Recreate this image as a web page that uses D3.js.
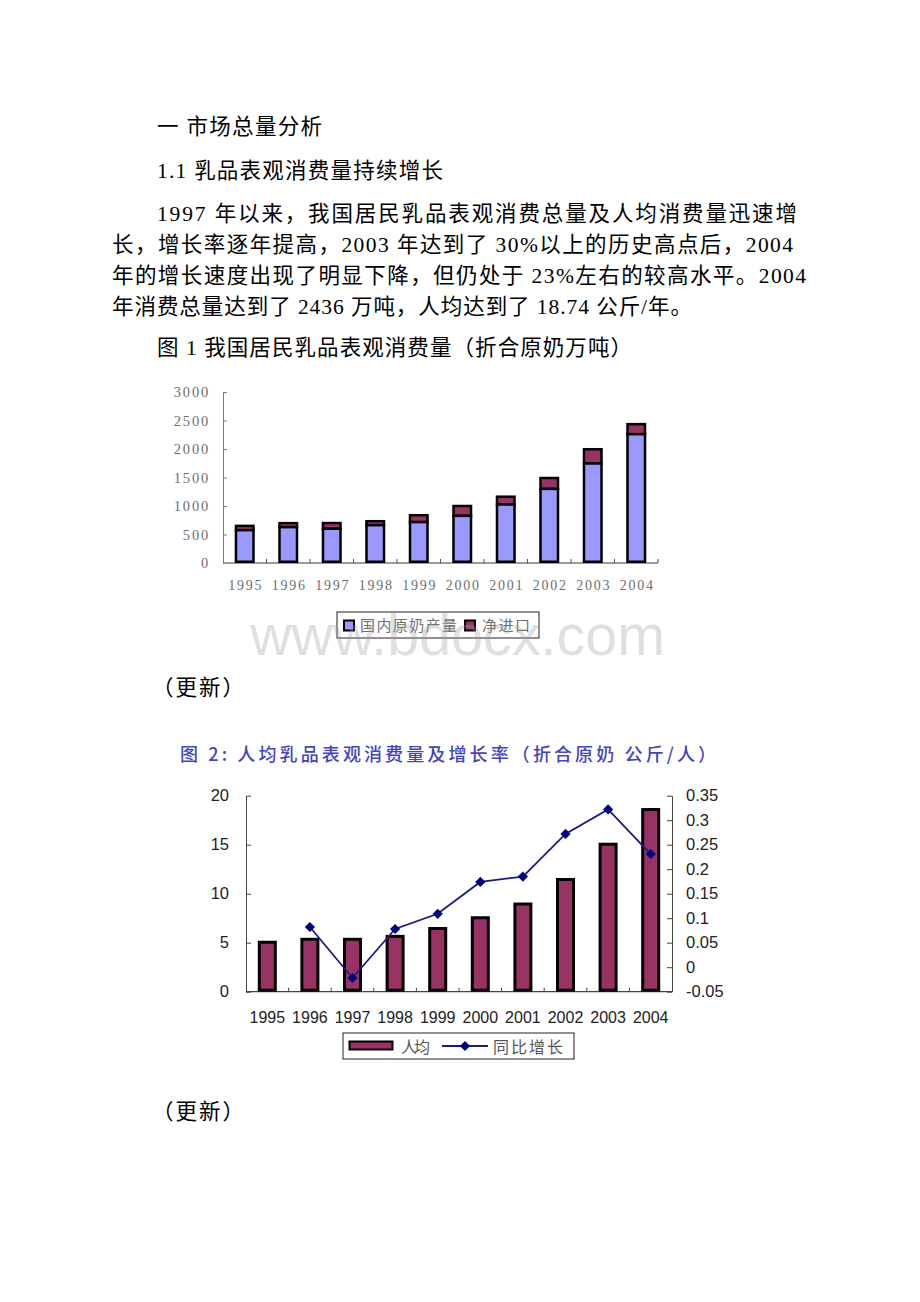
<!DOCTYPE html>
<html><head><meta charset="utf-8">
<script src="https://cdn.jsdelivr.net/npm/d3@7"></script>
<style>body{margin:0;background:#fff}svg{display:block}</style>
</head><body>
<svg id="page" width="920" height="1302"></svg>
<script>
// ---------- data ----------
const years = ['1995','1996','1997','1998','1999','2000','2001','2002','2003','2004'];
const domestic = [576, 629, 601, 663, 718, 827, 1026, 1300, 1746, 2260];
const netImport = [75, 70, 100, 70, 120, 173, 137, 191, 250, 176];
const perCapita = [5.2, 5.5, 5.5, 5.8, 6.6, 7.7, 9.1, 11.6, 15.2, 18.74];
const growth = [null, 0.082, -0.022, 0.078, 0.109, 0.174, 0.185, 0.272, 0.322, 0.231];
const yTicks1 = [0, 500, 1000, 1500, 2000, 2500, 3000];
const yTicksLeft2 = [0, 5, 10, 15, 20];
const yTicksRight2 = [-0.05, 0, 0.05, 0.1, 0.15, 0.2, 0.25, 0.3, 0.35];
const legend1 = ['国内原奶产量', '净进口'];
const legend2 = ['人均', '同比增长'];
const title2 = '图 2:  人均乳品表观消费量及增长率（折合原奶 公斤/人）';
const bodyLines = [
  '一 市场总量分析',
  '1.1 乳品表观消费量持续增长',
  '1997 年以来，我国居民乳品表观消费总量及人均消费量迅速增',
  '长，增长率逐年提高，2003 年达到了 30%以上的历史高点后，2004',
  '年的增长速度出现了明显下降，但仍处于 23%左右的较高水平。2004',
  '年消费总量达到了 2436 万吨，人均达到了 18.74 公斤/年。',
  '图 1 我国居民乳品表观消费量（折合原奶万吨）',
  '（更新）',
  '（更新）'
];

// ---------- layout ----------
const bodyLayout = [
  {x:157, y:127, w:165},
  {x:157, y:171, w:286},
  {x:157, y:214, w:640},
  {x:112, y:245, w:681},
  {x:112, y:276, w:694},
  {x:112, y:307, w:580},
  {x:157, y:348, w:475},
  {x:152, y:688, w:92},
  {x:152, y:1112, w:92}
];
const svg = d3.select('#page');
svg.append('rect').attr('width',920).attr('height',1302).attr('fill','#fff');

const CJK = "'Liberation Serif','Noto Sans CJK SC',serif";
svg.append('g').selectAll('text').data(bodyLines).join('text')
  .attr('x',(d,i)=>bodyLayout[i].x).attr('y',(d,i)=>bodyLayout[i].y)
  .attr('dominant-baseline','central')
  .attr('font-family',CJK).attr('font-size',21.5).attr('fill','#000')
  .attr('textLength',(d,i)=>bodyLayout[i].w).attr('lengthAdjust','spacing')
  .text(d=>d);

// ---------- chart 1 ----------
const c1 = {left:223, right:658, top:392, bottom:563};
const x1 = d3.scaleBand().domain(years).range([c1.left,c1.right]).paddingInner(0.54).paddingOuter(0.27);
const y1 = d3.scaleLinear().domain([0,3000]).range([c1.bottom,c1.top]);
const g1 = svg.append('g');
const gray1 = '#6e6e6e';

// y axis
const ax1 = g1.append('g').attr('transform',`translate(${c1.left},0)`)
  .call(d3.axisLeft(y1).tickValues(yTicks1).tickSizeInner(-4).tickSizeOuter(0).tickPadding(13).tickFormat(d3.format('d')));
ax1.select('.domain').attr('stroke','#7a7a7a');
ax1.selectAll('.tick line').attr('stroke','#7a7a7a');
ax1.selectAll('.tick text').attr('font-family','Liberation Serif').attr('font-size',14.5)
  .attr('letter-spacing',1.8).attr('fill',gray1);
ax1.selectAll('.tick').filter(d=>d===0).select('line').remove();

// x axis line + boundary ticks
g1.append('line').attr('x1',c1.left).attr('x2',c1.right).attr('y1',c1.bottom).attr('y2',c1.bottom)
  .attr('stroke','#7a7a7a').attr('stroke-width',1.5);
g1.append('g').selectAll('line').data(d3.range(1,years.length+1)).join('line')
  .attr('x1',i=>c1.left+i*x1.step()).attr('x2',i=>c1.left+i*x1.step())
  .attr('y1',c1.bottom).attr('y2',c1.bottom-4).attr('stroke','#555');
g1.append('g').selectAll('text').data(years).join('text')
  .attr('x',d=>x1(d)+x1.bandwidth()/2+1).attr('y',585).attr('dominant-baseline','central')
  .attr('text-anchor','middle').attr('font-family','Liberation Serif').attr('font-size',14)
  .attr('letter-spacing',1.8).attr('fill',gray1).text(d=>d);

// stacked bars
const sw = 2.5;
g1.append('g').selectAll('rect.net').data(years).join('rect')
  .attr('x',d=>x1(d)+sw/2).attr('width',x1.bandwidth()-sw)
  .attr('y',(d,i)=>y1(domestic[i]+netImport[i]))
  .attr('height',(d,i)=>y1(domestic[i])-y1(domestic[i]+netImport[i]))
  .attr('fill','#993366').attr('stroke','#000').attr('stroke-width',sw);
g1.append('g').selectAll('rect.dom').data(years).join('rect')
  .attr('x',d=>x1(d)+sw/2).attr('width',x1.bandwidth()-sw)
  .attr('y',(d,i)=>y1(domestic[i]))
  .attr('height',(d,i)=>y1(0)-y1(domestic[i])-sw/2)
  .attr('fill','#9999ff').attr('stroke','#000').attr('stroke-width',sw);

// legend 1
const lg1 = g1.append('g');
lg1.append('rect').attr('x',337).attr('y',612).attr('width',202).attr('height',26)
  .attr('fill','#fff').attr('stroke','#222').attr('stroke-width',1);
const lg1Pos = [{sx:344, tx:360, tw:97},{sx:465, tx:482, tw:48}];
const lg1Col = ['#9999ff','#993366'];
lg1.selectAll('rect.sw').data(legend1).join('rect').attr('class','sw')
  .attr('x',(d,i)=>lg1Pos[i].sx).attr('y',620.5).attr('width',10).attr('height',10)
  .attr('fill',(d,i)=>lg1Col[i]).attr('stroke','#000').attr('stroke-width',2);
lg1.selectAll('text').data(legend1).join('text')
  .attr('x',(d,i)=>lg1Pos[i].tx).attr('y',625.5).attr('dominant-baseline','central')
  .attr('font-family',CJK).attr('font-size',15).attr('fill',gray1)
  .attr('textLength',(d,i)=>lg1Pos[i].tw).attr('lengthAdjust','spacing').text(d=>d);

// ---------- chart 2 ----------
svg.append('text').attr('x',180).attr('y',753).attr('dominant-baseline','central')
  .attr('font-family',"'Noto Sans CJK SC',sans-serif").attr('font-size',18).attr('font-weight',500)
  .attr('fill','#4343c6').attr('textLength',536).attr('lengthAdjust','spacing').text(title2);

const c2 = {left:246, right:672, top:795.7, bottom:991.7};
const x2 = d3.scaleBand().domain(years).range([c2.left,c2.right]).paddingInner(0.554).paddingOuter(0.277);
const yL = d3.scaleLinear().domain([0,20]).range([c2.bottom,c2.top]);
const yR = d3.scaleLinear().domain([-0.05,0.35]).range([c2.bottom,c2.top]);
const g2 = svg.append('g');
const axCol = '#444';
const sans = "'Liberation Sans',Arial,sans-serif";

const axL = g2.append('g').attr('transform',`translate(${c2.left},0)`)
  .call(d3.axisLeft(yL).tickValues(yTicksLeft2).tickSizeInner(-5).tickSizeOuter(0).tickPadding(17));
const axR = g2.append('g').attr('transform',`translate(${c2.right},0)`)
  .call(d3.axisRight(yR).tickValues(yTicksRight2).tickSizeInner(-5).tickSizeOuter(0).tickPadding(14)
    .tickFormat(d=>String(+d.toFixed(2))));
[axL,axR].forEach(a=>{
  a.select('.domain').attr('stroke',axCol);
  a.selectAll('.tick line').attr('stroke',axCol);
  a.selectAll('.tick text').attr('font-family',sans).attr('font-size',16.5).attr('fill','#222');
});
g2.append('line').attr('x1',c2.left).attr('x2',c2.right).attr('y1',c2.bottom).attr('y2',c2.bottom)
  .attr('stroke',axCol).attr('stroke-width',1.2);
g2.append('g').selectAll('line').data(d3.range(1,years.length)).join('line')
  .attr('x1',i=>c2.left+i*x2.step()).attr('x2',i=>c2.left+i*x2.step())
  .attr('y1',c2.bottom).attr('y2',c2.bottom-4).attr('stroke',axCol);
g2.append('g').selectAll('text').data(years).join('text')
  .attr('x',d=>x2(d)+x2.bandwidth()/2).attr('y',1017).attr('dominant-baseline','central')
  .attr('text-anchor','middle').attr('font-family',sans).attr('font-size',16)
  .attr('fill','#222').text(d=>d);

// bars
const sw2 = 3;
g2.append('g').selectAll('rect').data(years).join('rect')
  .attr('x',d=>x2(d)+sw2/2).attr('width',x2.bandwidth()-sw2)
  .attr('y',(d,i)=>yL(perCapita[i])+sw2/2)
  .attr('height',(d,i)=>yL(0)-yL(perCapita[i])-sw2)
  .attr('fill','#993366').attr('stroke','#000').attr('stroke-width',sw2);

// line
const pts = years.map((d,i)=>({x:x2(d)+x2.bandwidth()/2, v:growth[i]})).filter(p=>p.v!==null);
g2.append('path').datum(pts)
  .attr('d',d3.line().x(p=>p.x).y(p=>yR(p.v)))
  .attr('fill','none').attr('stroke','#1a1a8c').attr('stroke-width',1.8);
const diamond = d3.symbol(d3.symbolSquare, 52);
g2.append('g').selectAll('path').data(pts).join('path')
  .attr('d',diamond).attr('transform',p=>`translate(${p.x},${yR(p.v)}) rotate(45)`)
  .attr('fill','#000080');

// legend 2
const lg2 = g2.append('g');
lg2.append('rect').attr('x',343).attr('y',1033).attr('width',231).attr('height',26)
  .attr('fill','#fff').attr('stroke','#222').attr('stroke-width',1);
lg2.append('rect').attr('x',349.5).attr('y',1041.5).attr('width',43).attr('height',8)
  .attr('fill','#993366').attr('stroke','#000').attr('stroke-width',2);
lg2.append('line').attr('x1',442).attr('x2',488).attr('y1',1046).attr('y2',1046)
  .attr('stroke','#1a1a8c').attr('stroke-width',1.8);
lg2.append('path').attr('d',diamond).attr('transform','translate(465,1046) rotate(45)').attr('fill','#000080');
const lg2Pos = [{tx:401, tw:29},{tx:493, tw:70}];
lg2.selectAll('text').data(legend2).join('text')
  .attr('x',(d,i)=>lg2Pos[i].tx).attr('y',1046).attr('dominant-baseline','central')
  .attr('font-family',"'Noto Sans CJK SC',sans-serif").attr('font-size',16).attr('fill','#555')
  .attr('textLength',(d,i)=>lg2Pos[i].tw).attr('lengthAdjust','spacing').text(d=>d);

// watermark
svg.append('text').attr('x',250).attr('y',655).attr('font-family',sans).attr('font-size',57)
  .attr('fill','#9a9a9a').attr('fill-opacity',0.32).attr('textLength',415).attr('lengthAdjust','spacingAndGlyphs')
  .text('www.bdocx.com');
</script>
</body></html>
